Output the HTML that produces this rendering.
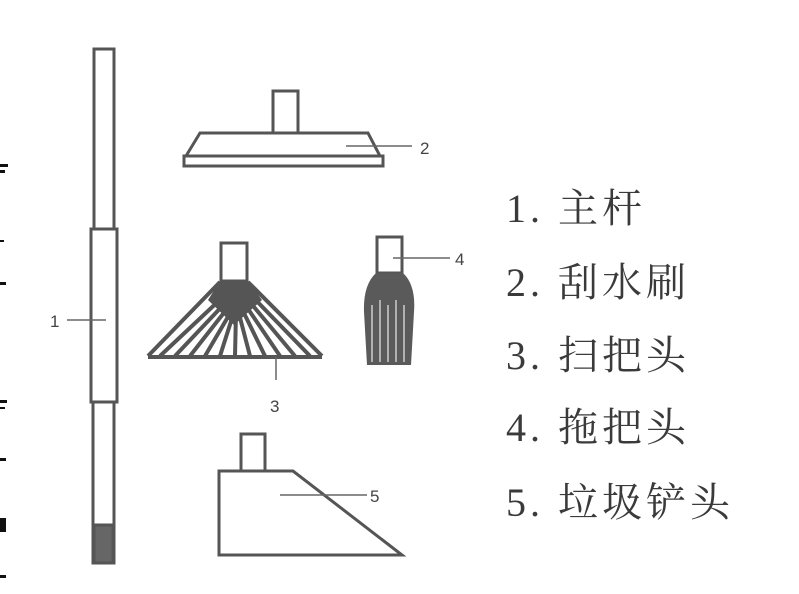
<!DOCTYPE html>
<html><head><meta charset="utf-8"><style>
html,body{margin:0;padding:0;background:#fff;}
svg{display:block;}
.t{font-family:"Liberation Serif","Noto Serif CJK SC",serif;font-size:40px;fill:#3a3a3a;letter-spacing:4px;}
.n{font-family:"Liberation Sans",sans-serif;font-size:17px;fill:#444;}
</style></head><body>
<svg width="799" height="594" viewBox="0 0 799 594" xmlns="http://www.w3.org/2000/svg">
<rect width="799" height="594" fill="#fff"/>
<g stroke="#555" stroke-width="3" fill="#fff">
<rect x="94" y="49" width="20" height="180"/>
<rect x="91" y="229" width="26" height="173"/>
<rect x="93" y="402" width="21" height="161"/>
<rect x="94" y="525" width="19" height="38" fill="#666"/>
<rect x="273" y="91" width="25" height="42"/>
<polygon points="200,133 368,133 380,156 186,156"/>
<rect x="184" y="156" width="199" height="10"/>
<rect x="221" y="243" width="26" height="38"/>
<rect x="377" y="237" width="25" height="36"/>
<rect x="241" y="434" width="24" height="37"/>
<polygon points="219,471 293,471 402,555 219,555"/>
</g>
<g stroke="#555" stroke-width="4">
<polygon points="220,281 248,281 262,300 234,325 208,300" fill="#555" stroke="none"/>
<line x1="220" y1="282" x2="148" y2="356"/>
<line x1="248" y1="282" x2="322" y2="356"/>
<line x1="148" y1="357" x2="322" y2="357"/>
<line x1="225" y1="295" x2="160" y2="356"/>
<line x1="228" y1="300" x2="175" y2="356"/>
<line x1="230" y1="305" x2="190" y2="356"/>
<line x1="232" y1="310" x2="205" y2="356"/>
<line x1="234" y1="312" x2="220" y2="356"/>
<line x1="236" y1="312" x2="235" y2="356"/>
<line x1="238" y1="310" x2="250" y2="356"/>
<line x1="240" y1="305" x2="265" y2="356"/>
<line x1="242" y1="300" x2="280" y2="356"/>
<line x1="244" y1="295" x2="295" y2="356"/>
<line x1="246" y1="290" x2="310" y2="356"/>
</g>
<path d="M376,273 L403,273 Q416,285 414,312 L411,365 L367,365 L364,312 Q363,285 376,273Z" fill="#5a5a5a"/>
<g stroke="#ccc" stroke-width="1.5">
<line x1="372" y1="305" x2="372" y2="362"/><line x1="380" y1="300" x2="380" y2="362"/>
<line x1="388" y1="305" x2="388" y2="362"/><line x1="396" y1="300" x2="396" y2="362"/>
<line x1="404" y1="305" x2="404" y2="362"/>
</g>
<g stroke="#666" stroke-width="1.5">
<line x1="67" y1="320" x2="106" y2="320"/>
<line x1="346" y1="146" x2="412" y2="146"/>
<line x1="276" y1="357" x2="276" y2="380"/>
<line x1="393" y1="258" x2="450" y2="258"/>
<line x1="280" y1="495" x2="367" y2="495"/>
</g>
<text class="n" x="50" y="327">1</text>
<text class="n" x="420" y="154">2</text>
<text class="n" x="270" y="412">3</text>
<text class="n" x="455" y="265">4</text>
<text class="n" x="370" y="502">5</text>
<text class="t" x="506" y="222">1. 主杆</text>
<text class="t" x="506" y="296">2. 刮水刷</text>
<text class="t" x="506" y="369">3. 扫把头</text>
<text class="t" x="506" y="441">4. 拖把头</text>
<text class="t" x="506" y="516">5. 垃圾铲头</text>
<g fill="#111">
<rect x="0" y="164" width="8" height="3"/><rect x="0" y="170" width="5" height="3"/>
<rect x="0" y="240" width="4" height="2"/><rect x="0" y="282" width="6" height="3"/>
<rect x="0" y="400" width="7" height="3"/><rect x="0" y="407" width="5" height="2"/>
<rect x="0" y="458" width="6" height="3"/><rect x="0" y="518" width="6" height="14"/>
<rect x="0" y="575" width="6" height="3"/>
</g>
</svg>
</body></html>
